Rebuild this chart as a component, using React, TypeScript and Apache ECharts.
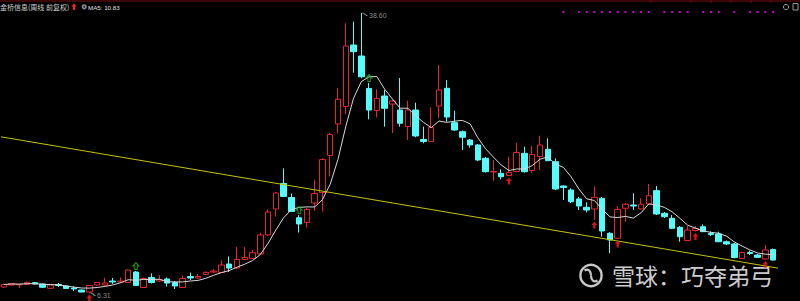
import React, { useEffect, useRef } from 'react';
import * as echarts from 'echarts';

// Weekly OHLC
const opens = [
  7.00, 7.23, 7.25, 7.31, 7.50, 7.35, 6.85, 7.29, 7.12, 6.88,
  6.65, 6.42, 7.23, 7.23, 7.69, 7.58, 7.52, 8.73, 6.94, 8.10,
  7.69, 7.92, 7.52, 6.94, 8.21, 8.04, 8.46, 8.73, 8.67, 9.65,
  9.19, 10.17, 10.29, 10.81, 13.00, 16.00, 18.94, 17.32, 14.99, 14.44,
  16.69, 17.90, 22.17, 25.80, 27.82, 34.91, 33.64, 29.89, 27.36, 29.03,
  28.10, 27.41, 25.51, 27.41, 24.01, 23.78, 27.87, 29.92, 25.95, 24.91,
  23.95, 23.38, 21.84, 20.26, 20.11, 19.86, 20.32, 22.42, 20.44, 22.05,
  22.88, 21.45, 18.65, 18.19, 17.15, 16.19, 16.00, 17.23, 13.19, 12.62,
  16.08, 16.46, 16.00, 16.57, 18.11, 15.50, 14.92, 13.88, 12.36, 13.52,
  13.95, 13.17, 13.11, 12.22, 11.96, 10.29, 10.98, 10.69, 10.23, 11.32,
];
const closes = [
  7.29, 7.40, 7.31, 7.54, 7.35, 6.97, 7.23, 7.17, 6.83, 6.77,
  6.42, 7.17, 7.52, 7.46, 7.58, 7.69, 8.96, 7.17, 7.98, 7.52,
  7.86, 7.46, 7.12, 7.98, 8.04, 8.21, 8.69, 8.84, 9.54, 9.19,
  10.17, 10.40, 10.96, 13.00, 15.65, 17.84, 17.44, 15.71, 14.27, 15.94,
  17.78, 21.70, 24.59, 28.65, 34.79, 34.14, 31.25, 27.41, 28.74, 27.61,
  28.45, 25.88, 27.41, 24.42, 23.78, 25.39, 29.72, 26.61, 25.11, 24.27,
  23.38, 21.65, 20.30, 20.32, 19.72, 20.21, 22.51, 20.30, 22.28, 23.38,
  21.57, 18.30, 18.48, 16.84, 16.34, 15.88, 17.34, 13.46, 12.42, 15.96,
  16.54, 16.34, 16.54, 17.53, 15.42, 15.11, 13.77, 12.80, 13.57, 13.75,
  13.38, 13.05, 12.22, 11.96, 10.40, 10.98, 10.86, 10.42, 11.27, 10.11,
];
const lows = [
  6.88, 7.12, 6.88, 7.23, 7.29, 6.88, 6.83, 7.00, 6.77, 6.54,
  6.37, 6.31, 7.17, 7.17, 7.35, 7.46, 7.46, 7.12, 6.88, 7.40,
  7.58, 7.06, 6.77, 6.88, 7.81, 7.92, 8.38, 8.61, 8.61, 8.73,
  9.08, 10.11, 10.23, 10.69, 12.88, 15.13, 17.38, 15.65, 13.29, 13.86,
  15.76, 15.71, 19.74, 24.73, 26.92, 31.71, 31.07, 26.34, 26.57, 25.49,
  24.76, 25.49, 23.95, 24.27, 23.57, 23.72, 26.46, 26.06, 24.99, 22.80,
  23.07, 21.53, 20.20, 19.26, 19.42, 19.80, 20.26, 20.20, 20.18, 20.49,
  21.53, 18.19, 17.03, 16.69, 15.88, 15.61, 14.73, 12.80, 10.89, 12.54,
  14.53, 15.88, 15.94, 16.46, 15.30, 14.96, 13.69, 12.22, 12.30, 13.40,
  13.34, 12.88, 12.19, 11.84, 10.29, 10.23, 10.69, 10.34, 10.17, 10.06,
];
const highs = [
  7.40, 7.46, 7.35, 7.63, 7.58, 7.40, 7.35, 7.46, 7.17, 7.06,
  6.71, 7.23, 7.58, 8.07, 8.04, 8.10, 9.02, 8.84, 8.10, 8.56,
  8.38, 8.10, 7.69, 8.33, 8.67, 8.50, 8.79, 9.08, 10.06, 10.52,
  11.61, 11.61, 11.27, 13.26, 15.94, 17.96, 20.69, 17.78, 15.30, 16.11,
  19.40, 21.88, 24.76, 29.92, 37.41, 37.60, 38.60, 30.53, 29.78, 29.72,
  28.57, 31.10, 28.49, 28.26, 25.49, 27.72, 32.60, 30.87, 27.33, 25.05,
  24.07, 23.49, 21.99, 21.65, 20.57, 22.03, 23.64, 23.18, 23.26, 24.45,
  24.15, 21.84, 18.71, 18.38, 17.38, 16.77, 18.57, 17.38, 13.34, 16.34,
  16.69, 17.81, 17.23, 18.88, 18.65, 15.65, 15.30, 14.03, 14.03, 14.03,
  14.23, 13.40, 13.38, 12.36, 12.07, 11.09, 11.21, 10.81, 11.84, 11.44,
];

// Indicator signals (candle indices)
const signalIdx = [72, 74, 75, 76, 77, 78, 79, 80, 81, 82, 83, 85, 86, 87, 88, 90, 91, 92, 94, 96, 97, 98, 99];
const redArrowIdx = [11, 65, 76, 79, 89, 98];
const greenMarkIdx = [17, 38, 47];
const signalLevel = 38.72;

// User-drawn trend line, in [candle index, price]
const trendStart: [number, number] = [-0.37, 24.32];
const trendEnd: [number, number] = [102.46, 8.75];

const titleText = '金桥信息(周线 前复权)';
const maText = 'MA5: 10.83';
const watermarkText = '雪球：巧夺弟弓';

const yMin = 5.386;
const yMax = 40.1;

const categories = closes.map((_, i) => String(i + 1));

const RED = '#e8262a';
const CYAN = '#54fcfc';
const ARROW = 'path://M5 0 L10 5 L7 5 L7 10 L3 10 L3 5 L0 5 Z';

export default function App() {
  const ref = useRef<HTMLDivElement>(null);
  useEffect(() => {
    document.body.style.margin = '0';
    document.body.style.background = '#000';
    document.body.style.overflow = 'hidden';
    const chart = echarts.init(ref.current!, null, { renderer: 'svg' });

    const candles = closes.map((c, i) => [opens[i], c, lows[i], highs[i]]);
    const ma5 = closes.map((_, i) => {
      const s = closes.slice(Math.max(0, i - 4), i + 1);
      return +(s.reduce((a, b) => a + b, 0) / s.length).toFixed(3);
    });
    const maxH = Math.max(...highs);
    const minL = Math.min(...lows);
    const maxIdx = highs.indexOf(maxH);
    const minIdx = lows.indexOf(minL);

    const tickXs = [651, 691, 711, 731, 751, 771];

    const option: any = {
      animation: false,
      backgroundColor: '#000',
      grid: { left: -1, width: 778, top: 0, height: 301 },
      xAxis: [
        { type: 'category', data: categories, show: false, boundaryGap: true },
        { type: 'value', min: -0.5, max: 99.5, show: false },
      ],
      yAxis: { type: 'value', min: yMin, max: yMax, show: false, splitLine: { show: false } },
      series: [
        {
          type: 'candlestick',
          data: candles,
          barWidth: 6,
          itemStyle: { color: '#000', color0: CYAN, borderColor: RED, borderColor0: CYAN, borderWidth: 1 },
          z: 2,
        },
        {
          type: 'line',
          data: ma5,
          showSymbol: false,
          symbol: 'none',
          lineStyle: { color: '#d8d8d8', width: 1 },
          z: 3,
        },
        {
          type: 'line',
          xAxisIndex: 1,
          data: [trendStart, trendEnd],
          clip: false,
          showSymbol: false,
          symbol: 'none',
          lineStyle: { color: '#c4c400', width: 1 },
          z: 4,
        },
        {
          type: 'scatter',
          data: signalIdx.map((i) => [i, signalLevel]),
          symbol: 'rect',
          symbolSize: 2,
          itemStyle: { color: '#ff00ff' },
          z: 5,
        },
        {
          type: 'scatter',
          data: redArrowIdx.map((i) => [i, lows[i]]),
          symbol: ARROW,
          symbolSize: [6, 7],
          symbolOffset: [0, 5],
          itemStyle: { color: '#ff1a1a' },
          z: 5,
        },
        {
          type: 'scatter',
          data: greenMarkIdx.map((i) => [i, highs[i]]),
          symbol: ARROW,
          symbolSize: [6, 7],
          symbolOffset: [0, -5],
          itemStyle: { color: 'rgba(0,0,0,0)', borderColor: '#20c020', borderWidth: 1 },
          z: 5,
        },
        {
          type: 'scatter',
          data: [[maxIdx, maxH], [minIdx, minL]],
          symbol: 'path://M0 0 L2 0 L6 2',
          symbolSize: [6, 3],
          symbolOffset: [3, 1.5],
          itemStyle: { color: 'rgba(0,0,0,0)', borderColor: '#b0b0b0', borderWidth: 1 },
          label: {
            show: true,
            position: 'right',
            distance: 1,
            offset: [0, 1],
            formatter: (p: any) => p.value[1].toFixed(2),
            color: '#b4b4b4',
            fontSize: 7,
            fontFamily: 'Liberation Sans',
          },
          z: 6,
        },
      ],
      graphic: [
        { type: 'line', shape: { x1: 0, y1: 1, x2: 800, y2: 1 }, style: { stroke: '#7a0a0a', lineWidth: 1 } },
        ...tickXs.map((x) => ({
          type: 'line',
          shape: { x1: x, y1: 0, x2: x, y2: 3 },
          style: { stroke: '#7a0a0a', lineWidth: 1 },
        })),
        {
          type: 'text',
          x: 0,
          y: 7,
          style: { text: titleText, fill: '#d0d0d0', font: '7px "Noto Sans CJK SC"', verticalAlign: 'middle' },
        },
        {
          type: 'polygon',
          shape: { points: [[74, 3.5], [76.6, 6.5], [75, 6.5], [75, 10], [73, 10], [73, 6.5], [71.4, 6.5]] },
          style: { fill: '#ff2020' },
        },
        { type: 'circle', shape: { cx: 84.2, cy: 6.8, r: 2.6 }, style: { fill: '#8c8c8c' } },
        { type: 'circle', shape: { cx: 84.2, cy: 6.8, r: 1.1 }, style: { fill: '#303030' } },
        {
          type: 'text',
          x: 88,
          y: 7,
          style: { text: maText, fill: '#e0e0e0', font: '6.2px "Liberation Sans"', verticalAlign: 'middle' },
        },
        { type: 'circle', shape: { cx: 786, cy: 7, r: 2.6 }, style: { fill: 'none', stroke: '#9a9a9a', lineWidth: 1 } },
        { type: 'rect', shape: { x: 793, y: 3.5, width: 5, height: 6.5 }, style: { fill: 'none', stroke: '#9a9a9a', lineWidth: 1 } },
        // watermark
        { type: 'circle', shape: { cx: 591, cy: 275.5, r: 10.6 }, style: { fill: 'none', stroke: '#c8c8c8', lineWidth: 2.4 } },
        {
          type: 'bezierCurve',
          shape: { x1: 584.5, y1: 270.5, cpx1: 588.5, cpy1: 268, cpx2: 591, cpy2: 271.5, x2: 591, y2: 275.5 },
          style: { fill: 'none', stroke: '#c8c8c8', lineWidth: 2.2 },
        },
        {
          type: 'bezierCurve',
          shape: { x1: 591, y1: 275.5, cpx1: 591, cpy1: 279.5, cpx2: 593.5, cpy2: 283, x2: 597.5, y2: 280.5 },
          style: { fill: 'none', stroke: '#c8c8c8', lineWidth: 2.2 },
        },
        {
          type: 'text',
          x: 612,
          y: 274.5,
          style: { text: watermarkText, fill: '#cccccc', font: '23px "Noto Sans CJK SC"', verticalAlign: 'middle' },
        },
      ],
    };
    chart.setOption(option);
    return () => chart.dispose();
  }, []);
  return <div ref={ref} style={{ width: 800, height: 301, background: '#000' }} />;
}
